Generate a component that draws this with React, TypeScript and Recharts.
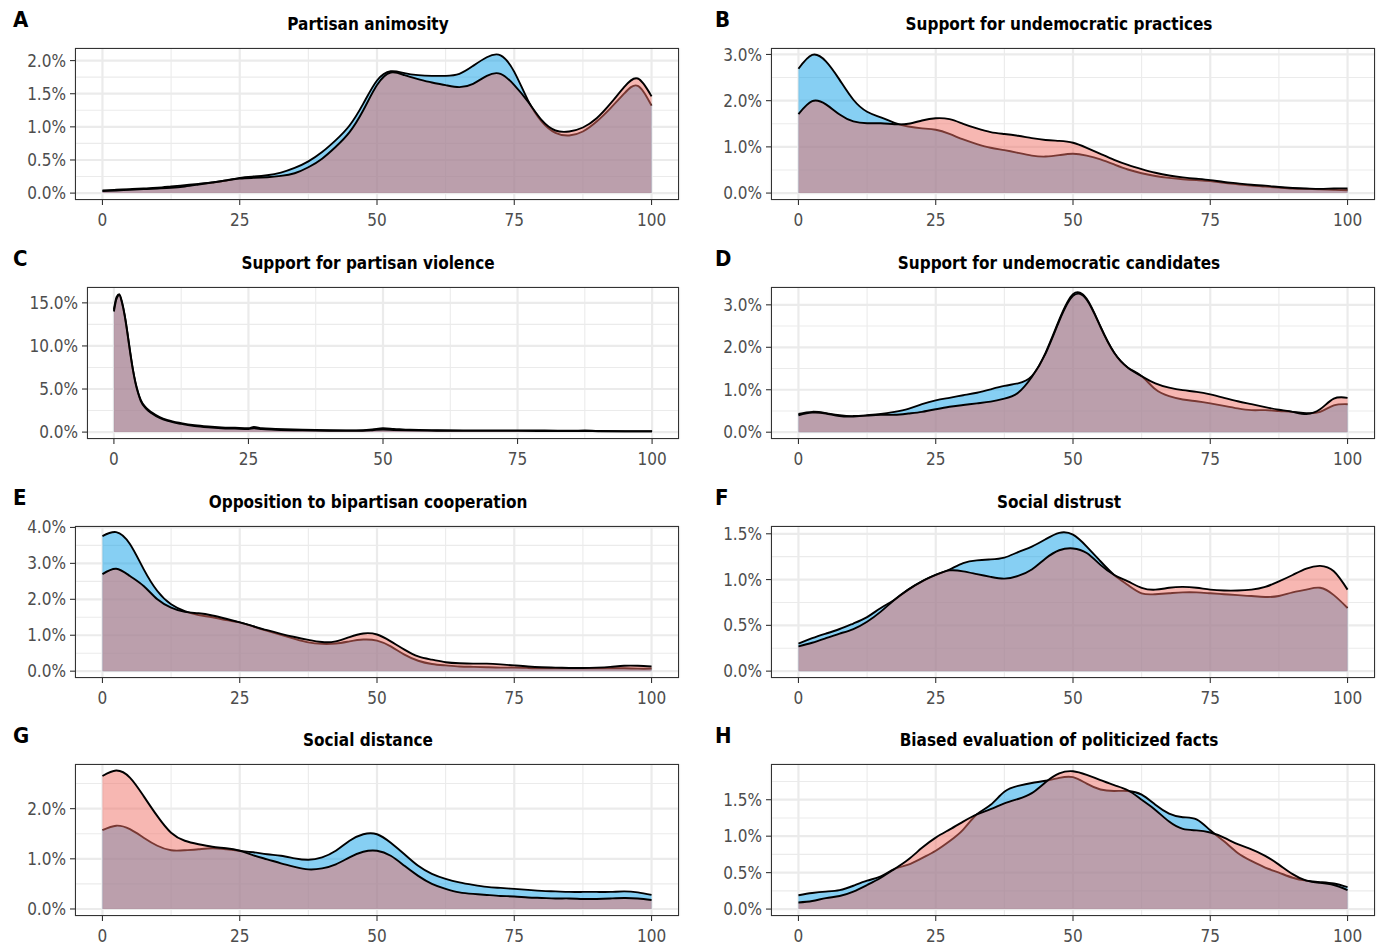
import React from 'react';
import { AreaChart, Area, XAxis, YAxis, CartesianGrid } from 'recharts';

const FONT = "'DejaVu Sans Condensed', 'DejaVu Sans', sans-serif";

// shared x grid (score 0-100)
const X_GRID = [0,2.5,5,7.5,10,12.5,15,17.5,20,22.5,25,27.5,30,32.5,35,37.5,40,42.5,45,47.5,50,52.5,55,57.5,60,62.5,65,67.5,70,72.5,75,77.5,80,82.5,85,87.5,90,92.5,95,97.5,100];
const X_TICKS = [0, 25, 50, 75, 100];
const X_MINOR = [12.5, 37.5, 62.5, 87.5];

// A: Partisan animosity (density in %)
const A_BLUE = [0.04,0.05,0.06,0.07,0.08,0.10,0.12,0.14,0.16,0.19,0.23,0.25,0.27,0.31,0.38,0.48,0.62,0.80,1.02,1.35,1.70,1.84,1.81,1.78,1.77,1.77,1.80,1.92,2.05,2.08,1.83,1.40,1.08,0.91,0.87,0.93,1.08,1.28,1.50,1.62,1.32];
const A_RED = [0.03,0.04,0.05,0.06,0.07,0.08,0.10,0.13,0.16,0.19,0.22,0.23,0.24,0.26,0.30,0.39,0.52,0.70,0.92,1.25,1.63,1.82,1.78,1.72,1.67,1.63,1.60,1.65,1.77,1.80,1.63,1.38,1.10,0.945,0.93,0.99,1.13,1.35,1.60,1.73,1.46];
const A_YTICKS = [0, 0.5, 1, 1.5, 2];
const A_YMINOR = [0.25, 0.75, 1.25, 1.75];

// B: Support for undemocratic practices
const B_BLUE = [2.69,2.99,2.85,2.45,2.02,1.76,1.64,1.52,1.44,1.40,1.37,1.28,1.16,1.06,0.98,0.93,0.87,0.81,0.79,0.82,0.85,0.81,0.73,0.62,0.51,0.43,0.37,0.33,0.30,0.28,0.26,0.22,0.19,0.16,0.14,0.12,0.10,0.09,0.08,0.07,0.06];
const B_RED = [1.71,1.99,1.92,1.70,1.55,1.51,1.51,1.49,1.50,1.57,1.62,1.60,1.50,1.40,1.32,1.28,1.24,1.19,1.15,1.13,1.09,0.98,0.85,0.72,0.61,0.52,0.44,0.38,0.34,0.31,0.28,0.24,0.21,0.18,0.16,0.13,0.11,0.10,0.09,0.10,0.10];
const B_YTICKS = [0, 1, 2, 3];
const B_YMINOR = [0.5, 1.5, 2.5];

// C: Support for partisan violence
const C_X = [0,0.5,1,1.5,2,2.5,3,3.5,4,4.5,5,6,7,8.5,10,12.5,15,17.5,20,22.5,25,26,27.5,30,35,40,45,48,50,52,55,60,65,70,75,80,85,87.5,90,95,100];
const C_BLUE = [14.2,15.7,16.0,15.1,13.6,11.6,9.4,7.4,5.8,4.6,3.7,2.8,2.3,1.75,1.4,1.05,0.8,0.65,0.55,0.5,0.45,0.6,0.45,0.38,0.28,0.22,0.2,0.3,0.45,0.38,0.27,0.22,0.2,0.2,0.2,0.2,0.15,0.2,0.12,0.1,0.1];
const C_RED = [14.0,15.5,15.9,15.0,13.5,11.5,9.3,7.3,5.7,4.5,3.6,2.7,2.2,1.65,1.3,0.95,0.7,0.55,0.45,0.4,0.35,0.45,0.35,0.28,0.2,0.16,0.15,0.22,0.3,0.25,0.2,0.16,0.14,0.14,0.14,0.13,0.12,0.13,0.1,0.08,0.08];
const C_YTICKS = [0, 5, 10, 15];
const C_YMINOR = [2.5, 7.5, 12.5];

// D: Support for undemocratic candidates
const D_BLUE = [0.43,0.48,0.45,0.40,0.38,0.40,0.43,0.48,0.55,0.66,0.75,0.81,0.87,0.93,1.01,1.09,1.15,1.32,1.87,2.65,3.25,3.14,2.49,1.87,1.52,1.32,1.01,0.85,0.77,0.73,0.68,0.62,0.56,0.52,0.52,0.50,0.48,0.45,0.48,0.63,0.66];
const D_RED = [0.40,0.46,0.44,0.38,0.37,0.39,0.41,0.41,0.44,0.48,0.54,0.60,0.64,0.68,0.72,0.79,0.93,1.30,1.85,2.62,3.21,3.12,2.48,1.87,1.52,1.32,1.15,1.05,0.99,0.95,0.89,0.81,0.73,0.66,0.59,0.53,0.48,0.43,0.54,0.79,0.81];
const D_YTICKS = [0, 1, 2, 3];
const D_YMINOR = [0.5, 1.5, 2.5];

// E: Opposition to bipartisan cooperation
const E_BLUE = [3.76,3.87,3.54,2.84,2.23,1.86,1.67,1.56,1.50,1.42,1.36,1.24,1.12,1.01,0.90,0.80,0.76,0.77,0.83,0.88,0.85,0.69,0.46,0.29,0.20,0.16,0.13,0.12,0.11,0.10,0.10,0.09,0.08,0.08,0.08,0.08,0.08,0.08,0.08,0.07,0.07];
const E_RED = [2.70,2.85,2.65,2.37,2.00,1.77,1.65,1.61,1.55,1.46,1.36,1.25,1.14,1.04,0.95,0.87,0.81,0.83,0.95,1.05,1.02,0.83,0.60,0.41,0.32,0.25,0.22,0.21,0.21,0.19,0.16,0.13,0.11,0.10,0.09,0.09,0.10,0.12,0.15,0.15,0.13];
const E_YTICKS = [0, 1, 2, 3, 4];
const E_YMINOR = [0.5, 1.5, 2.5, 3.5];

// F: Social distrust
const F_BLUE = [0.30,0.36,0.41,0.46,0.52,0.59,0.69,0.78,0.89,0.98,1.05,1.11,1.18,1.21,1.22,1.24,1.30,1.36,1.44,1.51,1.49,1.36,1.20,1.05,0.94,0.85,0.84,0.85,0.86,0.86,0.85,0.84,0.83,0.82,0.81,0.82,0.86,0.89,0.91,0.83,0.69];
const F_RED = [0.27,0.31,0.36,0.41,0.46,0.54,0.65,0.78,0.89,0.98,1.05,1.10,1.09,1.06,1.03,1.01,1.04,1.11,1.23,1.32,1.34,1.29,1.16,1.05,0.98,0.91,0.89,0.91,0.92,0.91,0.89,0.88,0.88,0.89,0.92,0.98,1.05,1.12,1.15,1.09,0.89];
const F_YTICKS = [0, 0.5, 1, 1.5];
const F_YMINOR = [0.25, 0.75, 1.25];

// G: Social distance
const G_BLUE = [1.57,1.66,1.59,1.42,1.26,1.17,1.17,1.19,1.21,1.19,1.16,1.13,1.09,1.06,1.01,0.98,1.03,1.16,1.36,1.49,1.49,1.32,1.09,0.86,0.70,0.60,0.53,0.48,0.44,0.42,0.40,0.38,0.36,0.35,0.34,0.34,0.34,0.34,0.35,0.33,0.28];
const G_RED = [2.65,2.76,2.62,2.25,1.85,1.52,1.36,1.29,1.24,1.21,1.16,1.07,0.99,0.91,0.84,0.79,0.81,0.89,1.03,1.14,1.16,1.06,0.86,0.66,0.50,0.40,0.33,0.30,0.28,0.26,0.25,0.23,0.22,0.21,0.21,0.20,0.20,0.21,0.22,0.21,0.18];
const G_YTICKS = [0, 1, 2];
const G_YMINOR = [0.5, 1.5, 2.5];

// H: Biased evaluation of politicized facts
const H_BLUE = [0.19,0.22,0.24,0.26,0.32,0.39,0.45,0.55,0.61,0.70,0.80,0.93,1.09,1.30,1.43,1.61,1.69,1.73,1.76,1.80,1.81,1.72,1.64,1.62,1.62,1.57,1.43,1.31,1.26,1.23,1.08,0.93,0.77,0.66,0.57,0.50,0.43,0.39,0.37,0.35,0.30];
const H_RED = [0.09,0.11,0.15,0.18,0.24,0.33,0.43,0.55,0.68,0.84,0.98,1.09,1.20,1.30,1.37,1.45,1.51,1.59,1.74,1.86,1.89,1.84,1.77,1.70,1.63,1.50,1.36,1.20,1.10,1.08,1.05,0.98,0.89,0.82,0.73,0.61,0.48,0.39,0.36,0.33,0.26];
const H_YTICKS = [0, 0.5, 1, 1.5];
const H_YMINOR = [0.25, 0.75, 1.25, 1.75];

const BLUE_FILL = '#0d9fe7';
const RED_FILL = '#ef6f65';

const ROW_TOP = [48, 287, 526, 764];
const PLOT_H = 152;

const panels = [
  { letter: 'A', title: 'Partisan animosity', xs: X_GRID, blue: A_BLUE, red: A_RED, domain: [-0.104, 2.19], yTicks: A_YTICKS, yMinor: A_YMINOR, col: 0, row: 0, left: 75, curve: 'natural' },
  { letter: 'B', title: 'Support for undemocratic practices', xs: X_GRID, blue: B_BLUE, red: B_RED, domain: [-0.15, 3.14], yTicks: B_YTICKS, yMinor: B_YMINOR, col: 1, row: 0, left: 771, curve: 'natural' },
  { letter: 'C', title: 'Support for partisan violence', xs: C_X, blue: C_BLUE, red: C_RED, domain: [-0.8, 16.84], yTicks: C_YTICKS, yMinor: C_YMINOR, col: 0, row: 1, left: 87, curve: 'monotone' },
  { letter: 'D', title: 'Support for undemocratic candidates', xs: X_GRID, blue: D_BLUE, red: D_RED, domain: [-0.16, 3.42], yTicks: D_YTICKS, yMinor: D_YMINOR, col: 1, row: 1, left: 771, curve: 'natural' },
  { letter: 'E', title: 'Opposition to bipartisan cooperation', xs: X_GRID, blue: E_BLUE, red: E_RED, domain: [-0.19, 4.04], yTicks: E_YTICKS, yMinor: E_YMINOR, col: 0, row: 2, left: 75, curve: 'natural' },
  { letter: 'F', title: 'Social distrust', xs: X_GRID, blue: F_BLUE, red: F_RED, domain: [-0.075, 1.585], yTicks: F_YTICKS, yMinor: F_YMINOR, col: 1, row: 2, left: 771, curve: 'natural' },
  { letter: 'G', title: 'Social distance', xs: X_GRID, blue: G_BLUE, red: G_RED, domain: [-0.14, 2.89], yTicks: G_YTICKS, yMinor: G_YMINOR, col: 0, row: 3, left: 75, curve: 'natural' },
  { letter: 'H', title: 'Biased evaluation of politicized facts', xs: X_GRID, blue: H_BLUE, red: H_RED, domain: [-0.095, 1.99], yTicks: H_YTICKS, yMinor: H_YMINOR, col: 1, row: 3, left: 771, curve: 'natural' },
];

const COL_RIGHT = [679, 1375];
const COL_LETTER_X = [13, 715];
const COL_TITLE_CX = [368, 1059];

const toPx = (axis: any, v: number) => {
  const s = axis && axis.scale;
  if (!s) return NaN;
  if (typeof s === 'function') return s(v);
  if (typeof s.map === 'function') return s.map(v);
  return NaN;
};

function Panel({ p }: { p: any }) {
  const data = p.xs.map((x: number, i: number) => ({ x, blue: p.blue[i], red: p.red[i] }));
  const YW = 80, MT = 14, MR = 2, XH = 34;
  const right = COL_RIGHT[p.col];
  const top = ROW_TOP[p.row];
  const plotW = right - p.left;
  const w = plotW + YW + MR;
  const h = PLOT_H + MT + XH;
  const tickStyle = { fill: '#4d4d4d', fontSize: 17, fontFamily: FONT };
  return (
    <>
      <div style={{ position: 'absolute', left: COL_LETTER_X[p.col], top: top - 28, transform: 'translateY(-50%)', fontFamily: FONT, fontWeight: 700, fontSize: 22, lineHeight: '26px', color: '#000' }}>{p.letter}</div>
      <div style={{ position: 'absolute', left: COL_TITLE_CX[p.col], top: top - 24, transform: 'translate(-50%,-50%)', fontFamily: FONT, fontWeight: 700, fontSize: 17, lineHeight: '22px', color: '#000', whiteSpace: 'nowrap' }}>{p.title}</div>
      <div style={{ position: 'absolute', left: p.left - YW, top: top - MT, width: w, height: h }}>
        <AreaChart width={w} height={h} data={data} margin={{ top: MT, right: MR, bottom: 0, left: 0 }}>
          <CartesianGrid
            stroke="#ebebeb"
            strokeWidth={1.1}
            horizontalCoordinatesGenerator={(props: any) => p.yMinor.map((v: number) => toPx(props.yAxis, v))}
            verticalCoordinatesGenerator={(props: any) => X_MINOR.map((v: number) => toPx(props.xAxis, v))}
          />
          <CartesianGrid stroke="#ebebeb" strokeWidth={2.2} />
          <XAxis
            type="number"
            dataKey="x"
            domain={[-5, 105]}
            allowDataOverflow
            ticks={X_TICKS}
            height={XH}
            axisLine={false}
            tickLine={{ stroke: '#333333', strokeWidth: 1.1 }}
            tickSize={5}
            tickMargin={9}
            tick={tickStyle}
            interval={0}
          />
          <YAxis
            type="number"
            domain={p.domain}
            allowDataOverflow
            ticks={p.yTicks}
            width={YW}
            axisLine={false}
            tickLine={{ stroke: '#333333', strokeWidth: 1.1 }}
            tickSize={5}
            tickMargin={4}
            tick={tickStyle}
            interval={0}
            tickFormatter={(v: number) => `${v.toFixed(1)}%`}
          />
          <Area type={p.curve} dataKey="blue" baseValue={0} fill={BLUE_FILL} fillOpacity={0.5} stroke="#000000" strokeWidth={1.9} dot={false} activeDot={false} isAnimationActive={false} />
          <Area type={p.curve} dataKey="red" baseValue={0} fill={RED_FILL} fillOpacity={0.5} stroke="#000000" strokeWidth={1.9} dot={false} activeDot={false} isAnimationActive={false} />
        </AreaChart>
      </div>
      <div style={{ position: 'absolute', left: p.left, top: top, width: plotW, height: PLOT_H, border: '1.3px solid #333333', boxSizing: 'border-box', pointerEvents: 'none' }} />
    </>
  );
}

export default function App() {
  return (
    <div style={{ position: 'absolute', left: 0, top: 0, width: 1386, height: 946, background: '#ffffff', overflow: 'hidden' }}>
      {panels.map((p) => (
        <Panel key={p.letter} p={p} />
      ))}
    </div>
  );
}
